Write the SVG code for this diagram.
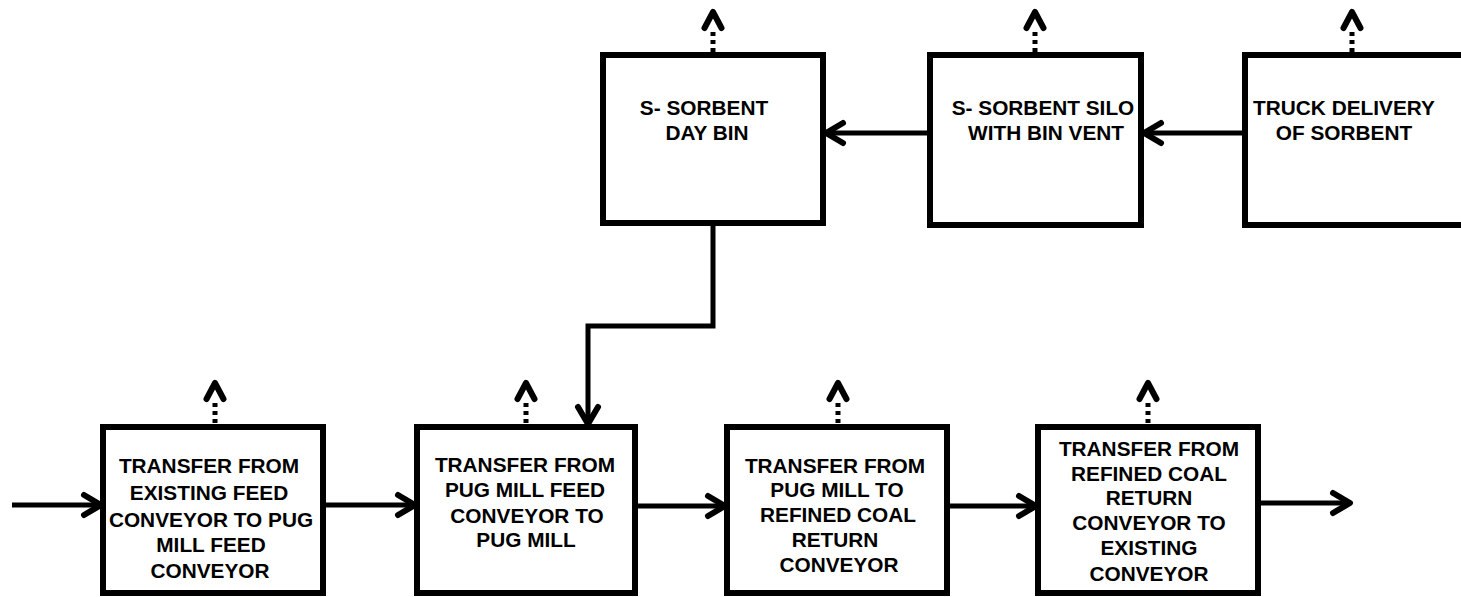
<svg xmlns="http://www.w3.org/2000/svg" xmlns:xlink="http://www.w3.org/1999/xlink" width="1461" height="597" viewBox="0 0 1461 597">
<style>
.box{fill:#fff;stroke:#000;stroke-width:6;stroke-linejoin:miter}
.ln{fill:none;stroke:#000;stroke-width:5;stroke-linejoin:miter}
.lbl{font-family:"Liberation Sans",Arial,sans-serif;font-size:20.8px;font-weight:bold;fill:#000;text-anchor:middle}
.ah{fill:none;stroke:#000;stroke-width:6;stroke-linecap:round;stroke-linejoin:round}
.dot{fill:none;stroke:#000;stroke-width:5;stroke-dasharray:4 4}
</style>
<defs>
<marker id="arr" markerUnits="userSpaceOnUse" markerWidth="40" markerHeight="40" orient="auto" refX="0" refY="0" overflow="visible">
<path class="ah" d="M-17,-10 L0,0 L-17,10"/>
</marker>
<g id="vent">
<path class="dot" d="M0,-4 V-24"/>
<path class="ah" d="M-8.5,-28 L0,-44 L8.5,-28"/>
</g>
</defs>

<g id="connectors">
<path class="ln" d="M1245,133 H1144" marker-end="url(#arr)"/>
<path class="ln" d="M930,133 H826" marker-end="url(#arr)"/>
<path class="ln" d="M713,223 V326 H588 V424" marker-end="url(#arr)"/>
<path class="ln" d="M12,505 H101" marker-end="url(#arr)"/>
<path class="ln" d="M323,505 H415" marker-end="url(#arr)"/>
<path class="ln" d="M635,506 H725" marker-end="url(#arr)"/>
<path class="ln" d="M947,506 H1036" marker-end="url(#arr)"/>
<path class="ln" d="M1258,503 H1350" marker-end="url(#arr)"/>
<use xlink:href="#vent" href="#vent" x="713" y="56"/>
<use xlink:href="#vent" href="#vent" x="1035" y="56"/>
<use xlink:href="#vent" href="#vent" x="1352" y="56"/>
<use xlink:href="#vent" href="#vent" x="215" y="427"/>
<use xlink:href="#vent" href="#vent" x="526" y="427"/>
<use xlink:href="#vent" href="#vent" x="838" y="427"/>
<use xlink:href="#vent" href="#vent" x="1148" y="427"/>
</g>

<g id="day-bin">
<rect class="box" x="603" y="55" width="220" height="168"/>
<text class="lbl" x="704" y="115">S- SORBENT</text>
<text class="lbl" x="707" y="140">DAY BIN</text>
</g>

<g id="silo">
<rect class="box" x="930" y="55" width="211" height="170"/>
<text class="lbl" x="1043" y="115">S- SORBENT SILO</text>
<text class="lbl" x="1046" y="140">WITH BIN VENT</text>
</g>

<g id="truck">
<path class="box" d="M1470,55 H1245 V225 H1470"/>
<text class="lbl" x="1344" y="115">TRUCK DELIVERY</text>
<text class="lbl" x="1344" y="140">OF SORBENT</text>
</g>

<g id="transfer-1">
<rect class="box" x="103" y="427" width="220" height="166"/>
<text class="lbl" x="209" y="473">TRANSFER FROM</text>
<text class="lbl" x="209" y="500">EXISTING FEED</text>
<text class="lbl" x="211" y="527">CONVEYOR TO PUG</text>
<text class="lbl" x="211" y="552">MILL FEED</text>
<text class="lbl" x="210" y="578">CONVEYOR</text>
</g>

<g id="transfer-2">
<rect class="box" x="417" y="427" width="218" height="166"/>
<text class="lbl" x="525" y="472">TRANSFER FROM</text>
<text class="lbl" x="525" y="497">PUG MILL FEED</text>
<text class="lbl" x="527" y="523">CONVEYOR TO</text>
<text class="lbl" x="526" y="547">PUG MILL</text>
</g>

<g id="transfer-3">
<rect class="box" x="727" y="427" width="220" height="166"/>
<text class="lbl" x="835" y="473">TRANSFER FROM</text>
<text class="lbl" x="837" y="497">PUG MILL TO</text>
<text class="lbl" x="838" y="522">REFINED COAL</text>
<text class="lbl" x="835" y="547">RETURN</text>
<text class="lbl" x="839" y="572">CONVEYOR</text>
</g>

<g id="transfer-4">
<rect class="box" x="1038" y="427" width="220" height="166"/>
<text class="lbl" x="1149" y="456">TRANSFER FROM</text>
<text class="lbl" x="1149" y="481">REFINED COAL</text>
<text class="lbl" x="1149" y="505">RETURN</text>
<text class="lbl" x="1149" y="530">CONVEYOR TO</text>
<text class="lbl" x="1149" y="555">EXISTING</text>
<text class="lbl" x="1149" y="581">CONVEYOR</text>
</g>
</svg>
